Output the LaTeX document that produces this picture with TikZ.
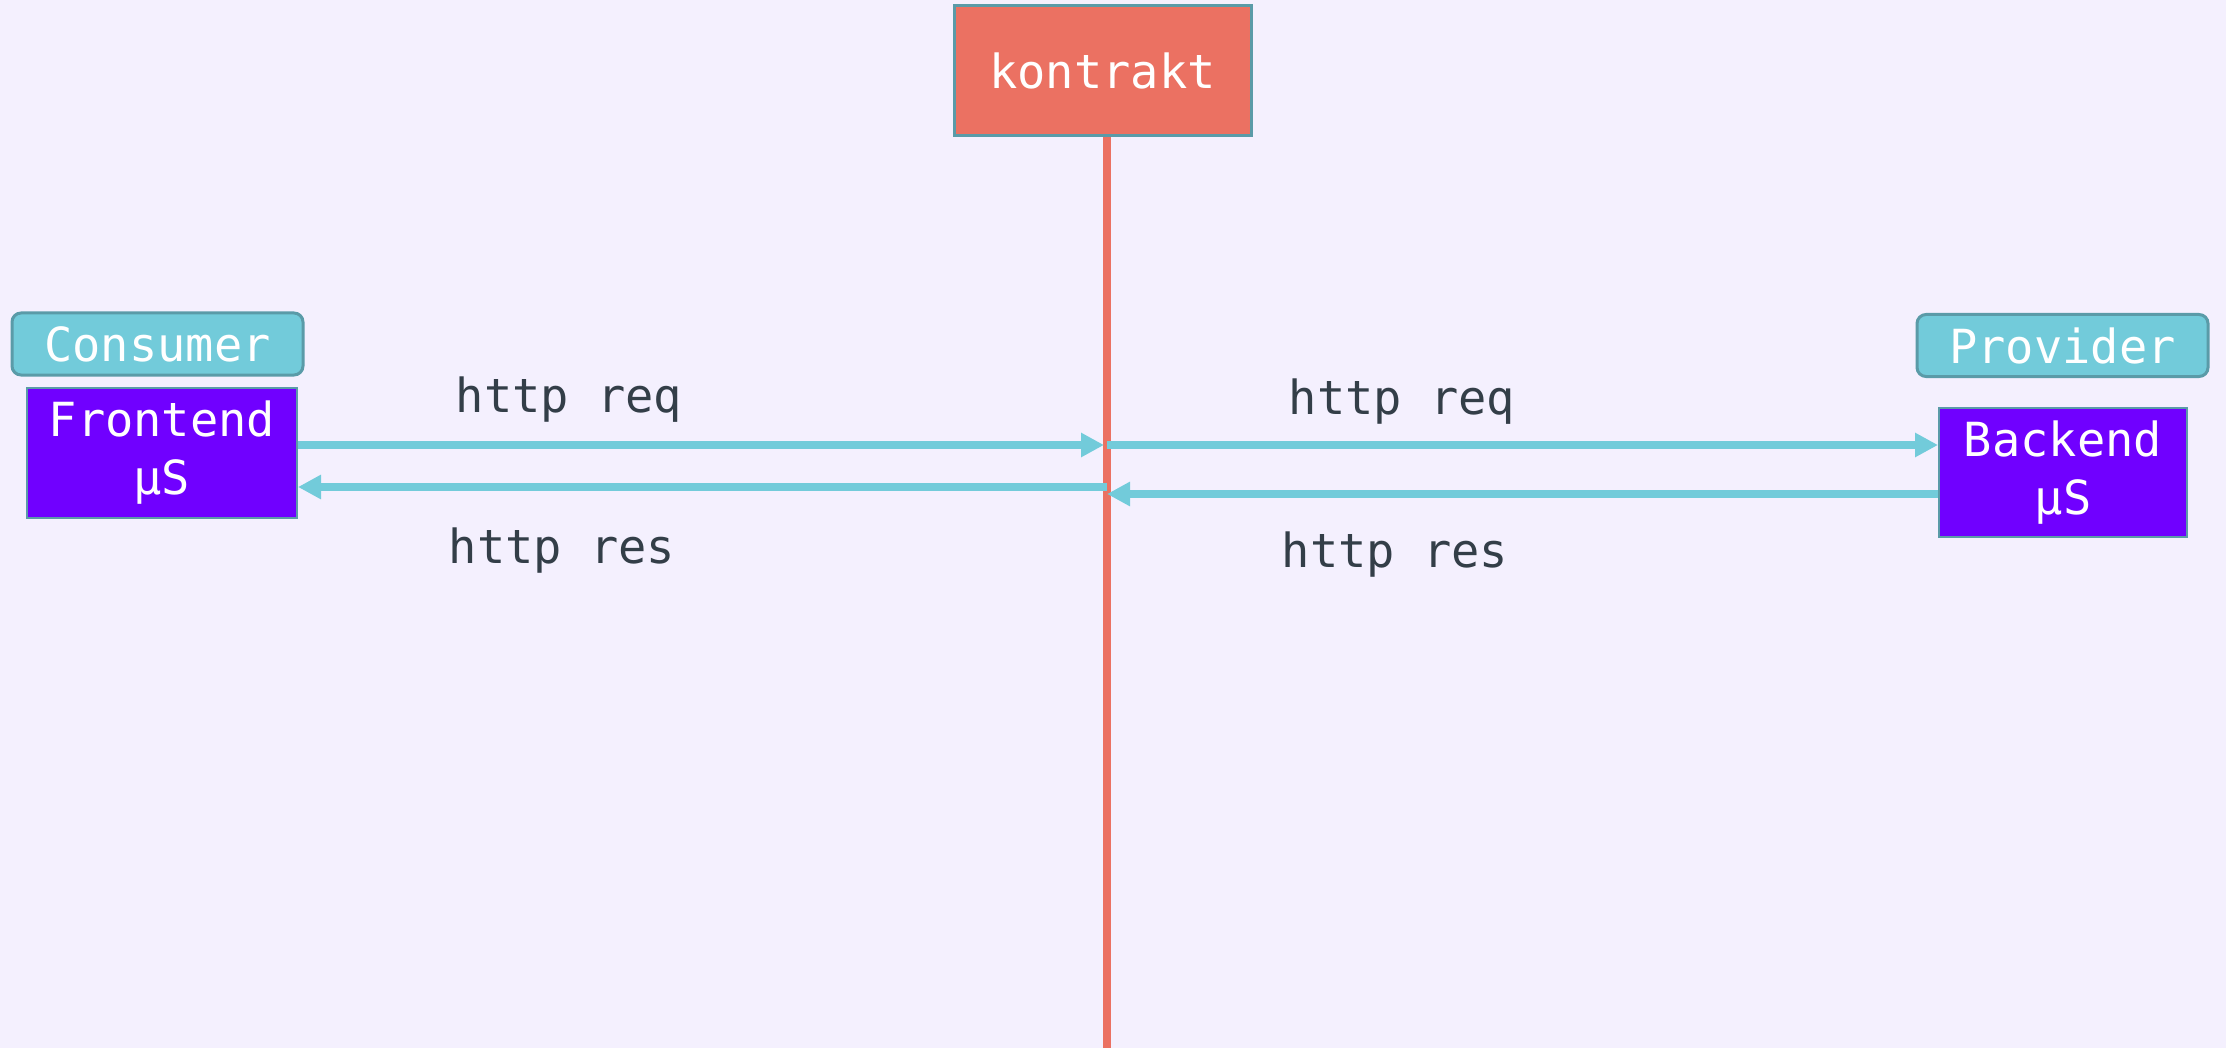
\documentclass[tikz,border=0pt]{standalone}
\usepackage{fontspec}
\setmonofont{DejaVu Sans Mono}
\usetikzlibrary{arrows.meta}
\definecolor{bg}{HTML}{F4F0FE}
\definecolor{kred}{HTML}{EB7162}
\definecolor{kteal}{HTML}{5A9BA8}
\definecolor{kcyan}{HTML}{72CBDA}
\definecolor{kpurple}{HTML}{7000FF}
\definecolor{ktext}{HTML}{333E48}
\tikzset{
  txt/.style={font=\ttfamily\fontsize{47}{58}\selectfont},
  tag/.style={txt, draw=kteal, line width=3pt, fill=kcyan, text=white, rounded corners=9pt, minimum width=291pt, minimum height=62pt, inner sep=0pt},
  svc/.style={txt, draw=kteal, line width=2pt, fill=kpurple, text=white, align=center, inner sep=0pt, minimum height=130pt},
  lbl/.style={txt, text=ktext, anchor=base},
  arr/.style={draw=kcyan, line width=8pt, -{Triangle[length=23pt,width=23pt]}},
  redline/.style={draw=kred, line width=8pt}
}
\begin{document}
\begin{tikzpicture}[x=1pt,y=-1pt]
\fill[bg] (0,0) rectangle (2226,1048);
\useasboundingbox (0,0) rectangle (2226,1048);
% contract
\node[txt, draw=kteal, line width=3pt, fill=kred, text=white, minimum width=297pt, minimum height=130pt, inner sep=0pt] (k) at (1102.5,71) {kontrakt};
\coordinate (kbot) at (1107,1048);
\draw[redline] (k.south -| kbot) -- (kbot);
% consumer side
\node[tag] (cons) at (157.5,344) {Consumer};
\node[svc, minimum width=270pt] (fe) at (162,453) {Frontend\\µS};
% provider side
\node[tag] (prov) at (2062.5,345.5) {Provider};
\node[svc, minimum width=248pt, minimum height=129pt] (be) at (2063,472.5) {Backend\\µS};
% contract points
\coordinate (reqL) at (1104,445);
\coordinate (reqR) at (1107,445);
\coordinate (resL) at (1107,487);
\coordinate (resR) at (1107,494);
% arrows
\draw[arr] (fe.east |- reqL) -- (reqL);
\draw[arr] (reqR) -- (be.west |- reqR);
\draw[arr] (resL) -- (fe.east |- resL);
\draw[arr] (be.west |- resR) -- (resR);
% labels
\node[lbl] (l1) at (569,412) {http req};
\node[lbl] (l2) at (562,563) {http res};
\node[lbl] (l3) at (1402,414) {http req};
\node[lbl] (l4) at (1395,567) {http res};
\end{tikzpicture}
\end{document}
